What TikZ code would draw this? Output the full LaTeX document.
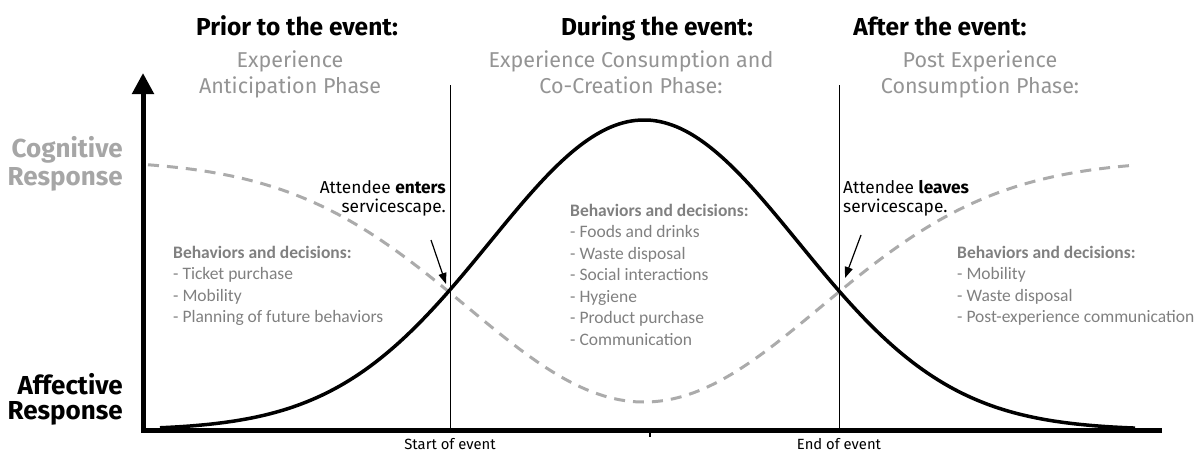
\documentclass[tikz,border=0pt]{standalone}
\usepackage{fontspec}
\setmainfont{Fira Sans}
\newfontfamily\calfont{Carlito}
\usetikzlibrary{arrows.meta}

\begin{document}
\begin{tikzpicture}[x=1pt,y=-1pt]
        %colores
        \colorlet{subgray}{black!42}
        \colorlet{listgray}{black!50}
        \colorlet{dashgray}{black!33}
        \tikzset{
            title/.style={anchor=base,inner sep=0pt,font=\bfseries\fontsize{24.5}{24.5}\selectfont},
            phase/.style={anchor=base,inner sep=0pt,text=subgray,font=\fontsize{21.5}{21.5}\selectfont},
            resp/.style={anchor=base east,inner sep=0pt,font=\bfseries\fontsize{26}{26}\selectfont},
            item/.style={anchor=base west,inner sep=0pt,text=listgray,font=\calfont\fontsize{17.5}{17.5}\selectfont},
            note/.style={inner sep=0pt,font=\fontsize{17.3}{17.3}\selectfont},
            evt/.style={anchor=base,inner sep=0pt,font=\fontsize{14.8}{14.8}\selectfont},
            pointer/.style={line width=1.2pt,-{Triangle[width=8pt,length=11pt]}}
        }
        \useasboundingbox (0,0) rectangle (1202,452);

        % Titulos
        \node[title] (prior) at (297,36) {Prior to the event:};
        \node[title] (during) at (657,36) {During the event:};
        \node[title] (after) at (940,36) {After the event:};
        \node[phase] (ph1a) at (290,67) {Experience};
        \node[phase] (ph1b) at (290,93) {Anticipation Phase};
        \node[phase] (ph2a) at (631,67) {Experience Consumption and};
        \node[phase] (ph2b) at (631,93) {Co-Creation Phase:};
        \node[phase] (ph3a) at (980,67) {Post Experience};
        \node[phase] (ph3b) at (980,93) {Consumption Phase:};

        % Respuestas
        \node[resp,text=black!35] (cog1) at (123,157) {Cognitive};
        \node[resp,text=black!35] (cog2) at (123,185) {Response};
        \node[resp] (aff1) at (123,394) {Affective};
        \node[resp] (aff2) at (123,419) {Response};

        % Ejes
        \coordinate (o) at (143,430);
        \coordinate (ytop) at (143,73);
        \coordinate (xend) at (1162,430);
        \draw[line width=5pt,-{Triangle[width=21pt,length=21pt]}] (xend) -- (o) -- (ytop);
        \coordinate (mid) at (650,430);
        \draw[line width=2pt] (mid) -- ++(0,7);

        % Lineas del evento
        \coordinate (s top) at (450,85);
        \coordinate (s bot) at (450,430);
        \coordinate (e top) at (839,85);
        \coordinate (e bot) at (839,430);
        \draw[line width=0.7pt] (s top) -- (s bot);
        \draw[line width=0.7pt] (e top) -- (e bot);
        \node[evt] (start) at ([yshift=-19]s bot) {Start of event};
        \node[evt] (end) at ([yshift=-19]e bot) {End of event};

        % Curvas
        \draw[dashgray,line width=3pt,dash pattern=on 11pt off 8pt]
            plot[domain=148:1132,samples=120,smooth] (\x,{160+242*exp(-((\x-644)/177)^2/2)});
        \draw[line width=3.5pt,line join=round]
            plot[domain=160:1135,samples=120,smooth] (\x,{430-310*exp(-((\x-644)/154)^2/2)});

        % Entrada y salida
        \node[note,anchor=base east] (enter1) at (446,193) {Attendee \textbf{enters}};
        \node[note,anchor=base east] (enter2) at (446,212) {servicescape.};
        \node[note,anchor=base west] (leave1) at (843,193) {Attendee \textbf{leaves}};
        \node[note,anchor=base west] (leave2) at (843,212) {servicescape.};
        \coordinate (enter tail) at (431,240);
        \coordinate (enter tip) at (446,284);
        \coordinate (leave tail) at (861,235);
        \coordinate (leave tip) at (845,278);
        \draw[pointer] (enter tail) -- (enter tip);
        \draw[pointer] (leave tail) -- (leave tip);

        % Comportamientos
        \node[item] (b1) at (173,258) {\bfseries Behaviors and decisions:};
        \foreach \t [count=\i] in {Ticket purchase,Mobility,Planning of future behaviors}
            \node[item] (b1-\i) at (173,{258+21.5*\i}) {- \t};
        \node[item] (b2) at (570,216) {\bfseries Behaviors and decisions:};
        \foreach \t [count=\i] in {Foods and drinks,Waste disposal,Social interactions,Hygiene,Product purchase,Communication}
            \node[item] (b2-\i) at (570,{216+21.5*\i}) {- \t};
        \node[item] (b3) at (957,258) {\bfseries Behaviors and decisions:};
        \foreach \t [count=\i] in {Mobility,Waste disposal,Post-experience communication}
            \node[item] (b3-\i) at (957,{258+21.5*\i}) {- \t};
\end{tikzpicture}
\end{document}
